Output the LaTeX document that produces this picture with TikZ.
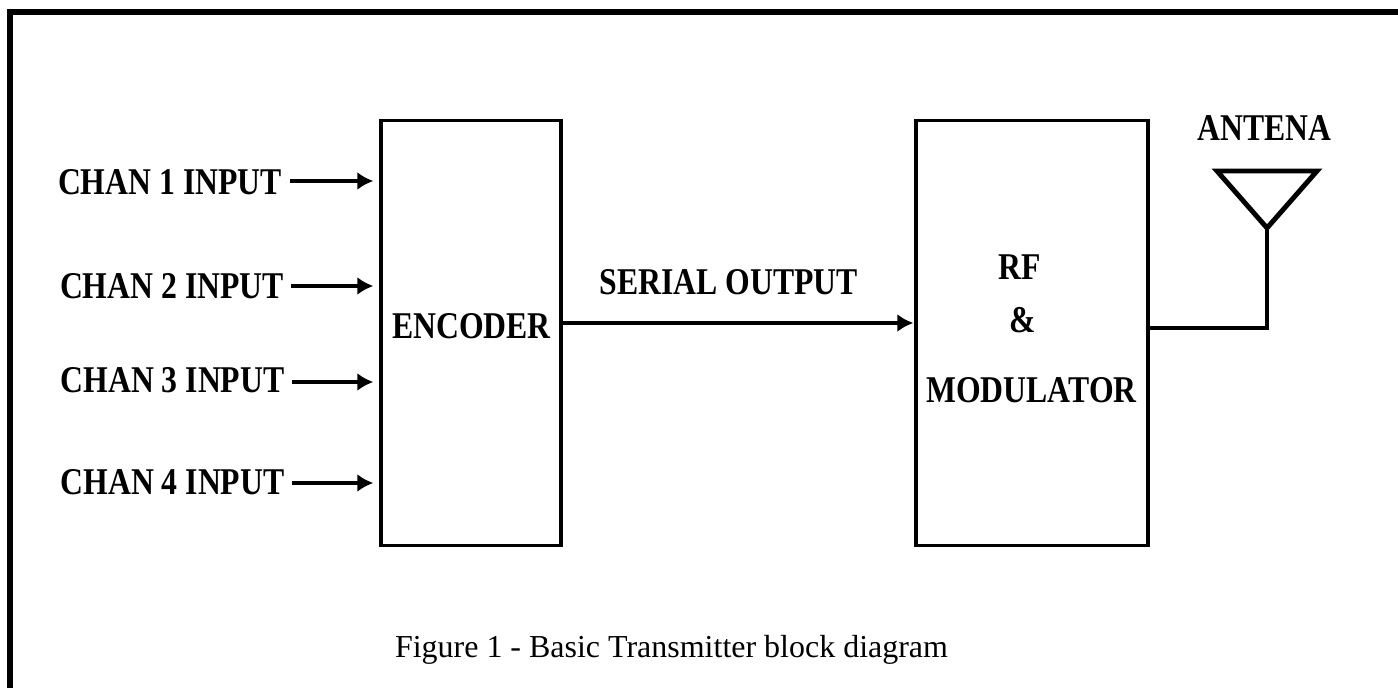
\documentclass[tikz,border=0pt]{standalone}
\usepackage{fontspec}
\setmainfont{Liberation Serif}
\newfontfamily\blockfont[FakeStretch=0.84]{Liberation Serif}
\usetikzlibrary{positioning}
\usetikzlibrary{arrows.meta}
\begin{document}
\begin{tikzpicture}[
  x=0.02cm, y=-0.02cm,
  myblock/.style={draw,line width=1.9pt,inner sep=0pt,align=center},
  mylabel/.style={font=\blockfont\fontsize{21.5pt}{24pt}\selectfont\bfseries,inner sep=0pt},
  myarrow/.style={line width=1.9pt,-{Latex[length=0.32cm,width=0.36cm]}},
  myline/.style={line width=1.9pt}
]
  \useasboundingbox (0,0) rectangle (1398,688);
  \draw[line width=3.4pt] (10,688) -- (10,12) -- (1398,12);

  \node[myblock, minimum width=3.6cm, minimum height=8.5cm] (enc) at (471,333) {};
  \node[mylabel] (enctext) at (471.5,326) {ENCODER};
  \node[myblock, minimum width=4.64cm, minimum height=8.5cm] (mod) at (1032,333) {};
  \node[mylabel] (rf) at (1020,267) {RF};
  \node[mylabel] (amp) at (1023,320) {\&};
  \node[mylabel] (modtext) at (1031.5,390) {MODULATOR};

  \node[mylabel] (serial) at (728.5,282) {SERIAL OUTPUT};
  \node[mylabel] (ant) at (1264.5,128) {ANTENA};
  \node[font=\fontsize{18.2pt}{20pt}\selectfont,inner sep=0pt] (cap) at (671.5,650) {Figure 1 - Basic Transmitter block diagram};

  \node[mylabel] (c1) at (170,182.5) {CHAN 1 INPUT};
  \node[mylabel] (c2) at (172,286) {CHAN 2 INPUT};
  \node[mylabel] (c3) at (172.5,380.5) {CHAN 3 INPUT};
  \node[mylabel] (c4) at (172.5,482) {CHAN 4 INPUT};

  \coordinate (i1) at (enc.west |- 0,181);
  \coordinate (i2) at (enc.west |- 0,286);
  \coordinate (i3) at (enc.west |- 0,382);
  \coordinate (i4) at (enc.west |- 0,483);
  \path ([xshift=.16cm]c1.east |- i1) edge[myarrow] ([xshift=-.12cm]i1)
        ([xshift=.14cm]c2.east |- i2) edge[myarrow] ([xshift=-.12cm]i2)
        ([xshift=.14cm]c3.east |- i3) edge[myarrow] ([xshift=-.12cm]i3)
        ([xshift=.14cm]c4.east |- i4) edge[myarrow] ([xshift=-.12cm]i4)
  ;
  \coordinate (o1) at (enc.east |- 0,323);
  \draw[myarrow] (o1) -- ([xshift=-.02cm]mod.west |- o1);

  \coordinate (tl) at (1217,171);
  \coordinate (tr) at (1317,171);
  \coordinate (tip) at (1267,228);
  \coordinate (m1) at (mod.east |- 0,328);
  \draw[line width=2.8pt] (tl) -- (tr) -- (tip) -- cycle;
  \draw[myline] (m1) -| (tip);
\end{tikzpicture}
\end{document}
